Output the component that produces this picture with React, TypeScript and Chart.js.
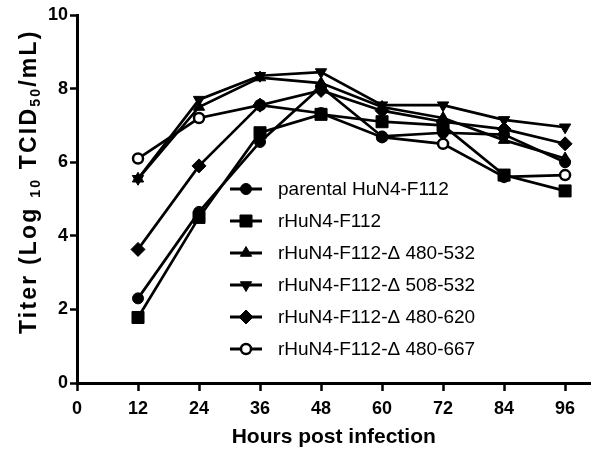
import React, { useEffect, useRef } from 'react';
import { Chart, registerables } from 'chart.js';
import { drawPoint } from 'chart.js/helpers';

Chart.register(...registerables);

const hours = [12, 24, 36, 48, 60, 72, 84, 96];
const parental = [2.3, 4.65, 6.55, 8.05, 6.7, 6.8, 6.75, 6.0];
const rHuN4 = [1.78, 4.5, 6.8, 7.3, 7.1, 7.0, 5.65, 5.22];
const d480_532 = [5.55, 7.5, 8.3, 8.15, 7.5, 7.2, 6.6, 6.1];
const d508_532 = [5.55, 7.7, 8.35, 8.45, 7.55, 7.55, 7.15, 6.95];
const d480_620 = [3.63, 5.9, 7.55, 7.95, 7.4, 7.1, 6.9, 6.5];
const d480_667 = [6.1, 7.2, 7.55, 7.33, 6.68, 6.5, 5.6, 5.65];

const seriesLabels = [
  'parental HuN4-F112',
  'rHuN4-F112',
  'rHuN4-F112-Δ 480-532',
  'rHuN4-F112-Δ 508-532',
  'rHuN4-F112-Δ 480-620',
  'rHuN4-F112-Δ 480-667',
];
const xTicks = [0, 12, 24, 36, 48, 60, 72, 84, 96];
const yTicks = [0, 2, 4, 6, 8, 10];
const xTitle = 'Hours post infection';
const yTitleParts = [
  { t: 'Titer (Log ', sub: false },
  { t: '10', sub: true },
  { t: ' TCID', sub: false },
  { t: '50', sub: true },
  { t: '/mL)', sub: false },
];

const FONT = '"Liberation Sans", Arial, sans-serif';

const styles = [
  { pointStyle: 'circle', radius: 5.5, rotation: 0, fill: '#000' },
  { pointStyle: 'rect', radius: 8.5, rotation: 0, fill: '#000' },
  { pointStyle: 'triangle', radius: 6.5, rotation: 0, fill: '#000' },
  { pointStyle: 'triangle', radius: 6.5, rotation: 180, fill: '#000' },
  { pointStyle: 'rectRot', radius: 7, rotation: 0, fill: '#000' },
  { pointStyle: 'circle', radius: 5, rotation: 0, fill: '#fff' },
];

const allSeries = [parental, rHuN4, d480_532, d508_532, d480_620, d480_667];

const legendPlugin = {
  id: 'customLegend',
  afterDraw(chart: any) {
    const ctx = chart.ctx;
    ctx.save();
    const x0 = 230;
    const y0 = 189;
    const dy = 32;
    seriesLabels.forEach((lab, i) => {
      const y = y0 + i * dy;
      const s = styles[i];
      ctx.strokeStyle = '#000';
      ctx.lineWidth = 3;
      ctx.beginPath();
      ctx.moveTo(x0, y);
      ctx.lineTo(x0 + 32, y);
      ctx.stroke();
      ctx.fillStyle = s.fill;
      ctx.strokeStyle = '#000';
      ctx.lineWidth = s.fill === '#fff' ? 2.5 : 1;
      drawPoint(ctx, { pointStyle: s.pointStyle, radius: s.radius, rotation: s.rotation, borderWidth: ctx.lineWidth } as any, x0 + 16, y);
      ctx.fillStyle = '#000';
      ctx.font = `19px ${FONT}`;
      ctx.textBaseline = 'middle';
      ctx.textAlign = 'left';
      ctx.fillText(lab, 278, y + 1);
    });
    ctx.restore();
  },
};

const yTitlePlugin = {
  id: 'yTitle',
  afterDraw(chart: any) {
    const ctx = chart.ctx;
    ctx.save();
    ctx.translate(36, 334);
    ctx.rotate(-Math.PI / 2);
    ctx.fillStyle = '#000';
    ctx.textBaseline = 'alphabetic';
    ctx.textAlign = 'left';
    try {
      (ctx as any).letterSpacing = '2.2px';
    } catch (e) {}
    let x = 0;
    for (const p of yTitleParts) {
      ctx.font = p.sub ? `bold 14px ${FONT}` : `bold 23px ${FONT}`;
      ctx.fillText(p.t, x, p.sub ? 4 : 0);
      x += ctx.measureText(p.t).width;
    }
    ctx.restore();
  },
};

export default function App() {
  const ref = useRef<HTMLCanvasElement>(null);
  useEffect(() => {
    document.body.style.margin = '0';
    const datasets = allSeries.map((vals, i) => {
      const s = styles[i];
      return {
        label: seriesLabels[i],
        data: hours.map((h, j) => ({ x: h, y: vals[j] })),
        borderColor: '#000',
        borderWidth: 2.7,
        backgroundColor: s.fill,
        pointStyle: s.pointStyle,
        pointRadius: s.radius,
        pointRotation: s.rotation,
        pointBackgroundColor: s.fill,
        pointBorderColor: '#000',
        pointBorderWidth: s.fill === '#fff' ? 2.5 : 1,
        tension: 0,
        fill: false,
      };
    });
    const chart = new Chart(ref.current as HTMLCanvasElement, {
      type: 'line',
      data: { datasets } as any,
      options: {
        responsive: false,
        animation: false,
        layout: { padding: { top: 15, right: 4, left: 0, bottom: 0 } },
        plugins: { legend: { display: false }, tooltip: { enabled: false } },
        scales: {
          x: {
            type: 'linear',
            min: 0,
            max: 101,
            afterBuildTicks: (s: any) => {
              s.ticks = xTicks.map((v) => ({ value: v }));
            },
            afterFit: (s: any) => {
              s.height = 72;
            },
            grid: { drawOnChartArea: false, tickLength: 8, tickWidth: 2.5, tickColor: '#000' },
            border: { display: true, width: 3, color: '#000' },
            ticks: { color: '#000', font: { family: FONT, size: 18, weight: 'bold' }, padding: 7, maxRotation: 0 },
            title: {
              display: true,
              text: xTitle,
              color: '#000',
              font: { family: FONT, size: 21, weight: 'bold' },
              padding: { top: 0, bottom: 5 },
            },
          },
          y: {
            type: 'linear',
            min: 0,
            max: 10,
            afterBuildTicks: (s: any) => {
              s.ticks = yTicks.map((v) => ({ value: v }));
            },
            afterFit: (s: any) => {
              s.width = 77;
            },
            grid: { drawOnChartArea: false, tickLength: 7, tickWidth: 2.5, tickColor: '#000' },
            border: { display: true, width: 3, color: '#000' },
            ticks: { color: '#000', font: { family: FONT, size: 18, weight: 'bold' }, padding: 2 },
          },
        },
      } as any,
      plugins: [legendPlugin, yTitlePlugin],
    });
    return () => chart.destroy();
  }, []);
  return (
    <div style={{ width: 600, height: 455, background: '#fff' }}>
      <canvas ref={ref} width={600} height={455} />
    </div>
  );
}
